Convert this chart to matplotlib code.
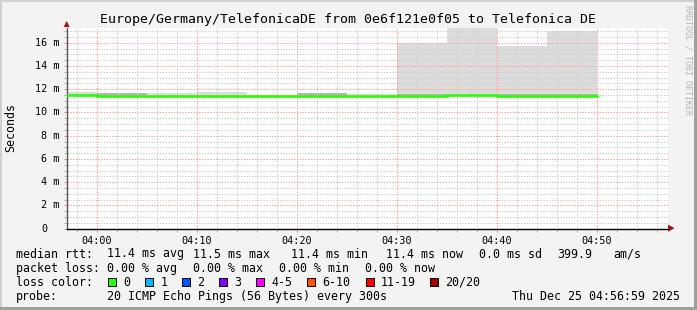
import matplotlib
matplotlib.use("Agg")
import matplotlib.pyplot as plt
from matplotlib.patches import Polygon, Rectangle
import matplotlib.transforms as mtransforms
import numpy as np

# ---------------- data ----------------
# 5-minute segments, start time in minutes relative to 04:00
seg_start = [-5, 0, 5, 10, 15, 20, 25, 30, 35, 40, 45]
seg_width = 5
median_ms = [11.52, 11.43, 11.43, 11.43, 11.45, 11.43, 11.40, 11.45, 11.50, 11.42, 11.45]
smoke_max = [11.76, 11.66, 11.66, 11.76, 11.50, 11.66, 11.60, 15.95, 17.40, 15.74, 17.03]
smoke_min = [11.45, 11.36, 11.36, 11.36, 11.40, 11.36, 11.33, 11.38, 11.43, 11.35, 11.38]
smoke_dense = [11.52, 11.66, 11.43, 11.45, 11.45, 11.66, 11.40, 11.58, 11.50, 11.58, 11.55]

xtick_vals = [0, 10, 20, 30, 40, 50]
xtick_labels = ["04:00", "04:10", "04:20", "04:30", "04:40", "04:50"]
ytick_vals = [0, 2, 4, 6, 8, 10, 12, 14, 16]
ytick_labels = ["0", "2 m", "4 m", "6 m", "8 m", "10 m", "12 m", "14 m", "16 m"]

title = "Europe/Germany/TelefonicaDE from 0e6f121e0f05 to Telefonica DE"
ylabel = "Seconds"
rtt_items = ["median rtt:", "11.4 ms avg", "11.5 ms max", "11.4 ms min",
             "11.4 ms now", "0.0 ms sd", "399.9", "am/s"]
loss_items = ["packet loss:", "0.00 % avg", "0.00 % max", "0.00 % min", "0.00 % now"]
loss_labels = ["0", "1", "2", "3", "4-5", "6-10", "11-19", "20/20"]
loss_colors = ["#26ff00", "#00b8ff", "#0059ff", "#7e00ff", "#ff00ff",
               "#ff5500", "#ff0000", "#a00000"]
probe_text = "20 ICMP Echo Pings (56 Bytes) every 300s"
date_text = "Thu Dec 25 04:56:59 2025"
watermark = "RRDTOOL / TOBI OETIKER"

# ---------------- layout ----------------
W, H = 697, 310
def fx(x): return x / W
def fy(y): return 1 - y / H

MONO = "DejaVu Sans Mono"
plt.rcParams["font.family"] = [MONO]

fig = plt.figure(figsize=(W / 100, H / 100), dpi=100, facecolor="#f3f3f3")

# frame
fig.patches.append(Rectangle((0, 0), fx(2), 1, transform=fig.transFigure,
                             facecolor="#d0d0d0", edgecolor="none", zorder=0))
fig.patches.append(Rectangle((0, fy(2)), 1, 2 / H, transform=fig.transFigure,
                             facecolor="#d0d0d0", edgecolor="none", zorder=0))
fig.patches.append(Rectangle((fx(694), 0), 3 / W, 1, transform=fig.transFigure,
                             facecolor="#a0a0a0", edgecolor="none", zorder=0))
fig.patches.append(Rectangle((0, 0), 1, 3 / H, transform=fig.transFigure,
                             facecolor="#a0a0a0", edgecolor="none", zorder=0))

ax_l, ax_r, ax_t, ax_b = 66.7, 668.0, 28.0, 228.7
ax = fig.add_axes([fx(ax_l), fy(ax_b), (ax_r - ax_l) / W, (ax_b - ax_t) / H])
ax.set_facecolor("white")
xmin = -3
xmax = xmin + (ax_r - ax_l) / 10.0
ymax = (ax_b - ax_t) / 11.625
ax.set_xlim(xmin, xmax)
ax.set_ylim(0, ymax)

# smoke
seg_start_a = np.array(seg_start, dtype=float)
smin = np.array(smoke_min)
ax.bar(seg_start_a, np.array(smoke_max) - smin, bottom=smin, width=seg_width,
       align="edge", color="#dcdcdc", linewidth=0, zorder=1)
ax.bar(seg_start_a, np.array(smoke_dense) - smin, bottom=smin, width=seg_width,
       align="edge", color="#b4b4b4", linewidth=0, zorder=1.1)

# grid
minor_x = np.arange(-2, 57, 2)
minor_y = np.arange(0.5, ymax, 0.5)
GRIDC = "#cfcfcf"
MGRIDC = "#ff9c9c"
for v in minor_x:
    if v % 10:
        ax.axvline(v, color=GRIDC, lw=0.72, ls=(0, (1.4, 1.4)), zorder=2)
for v in minor_y:
    if v % 2:
        ax.axhline(v, color=GRIDC, lw=0.72, ls=(0, (1.4, 1.4)), zorder=2)
for v in xtick_vals:
    ax.axvline(v, color=MGRIDC, lw=0.72, ls=(0, (1.4, 1.4)), zorder=2.1)
for v in ytick_vals[1:]:
    ax.axhline(v, color=MGRIDC, lw=0.72, ls=(0, (1.4, 1.4)), zorder=2.1)

# median line
xs = list(seg_start) + [seg_start[-1] + seg_width]
ys = list(median_ms) + [median_ms[-1]]
ax.step(xs, ys, where="post", color="#26ff00", lw=1.9, zorder=3,
        solid_joinstyle="miter")

# axes styling
for s in ["top", "right"]:
    ax.spines[s].set_visible(False)
ax.spines["left"].set_color("#555555")
ax.spines["bottom"].set_color("#000000")
ax.spines["left"].set_linewidth(1.0)
ax.spines["bottom"].set_linewidth(1.0)
ax.set_xticks(xtick_vals)
ax.set_xticklabels(xtick_labels, fontsize=7.3)
ax.set_yticks(ytick_vals)
ax.set_yticklabels([])
ax.set_xticks(minor_x, minor=True)
ax.set_yticks(minor_y, minor=True)
ax.tick_params(axis="x", which="major", length=2.5, width=0.7, color="#ff8080", pad=2.5)
ax.tick_params(axis="x", which="minor", length=2, width=0.7, color="#b0b0b0")
ax.tick_params(axis="y", which="major", length=2.5, width=0.7, color="#ff8080")
ax.tick_params(axis="y", which="minor", length=2, width=0.7, color="#b0b0b0")

# y tick labels
ytr = mtransforms.blended_transform_factory(fig.transFigure, ax.transData)
for v, lab in zip(ytick_vals, ytick_labels):
    xr = 59.8 if lab != "0" else 47.0
    ax.text(fx(xr), v, lab, transform=ytr, ha="right", va="center",
            fontsize=7.3, color="#000000", clip_on=False)

# arrows
fig.patches.append(Polygon([(fx(63.7), fy(27)), (fx(69.7), fy(27)), (fx(66.7), fy(21))],
                           closed=True, transform=fig.transFigure,
                           facecolor="#a01010", edgecolor="none", zorder=5))
fig.patches.append(Polygon([(fx(668), fy(224.7)), (fx(668), fy(231.7)), (fx(674.5), fy(228.2))],
                           closed=True, transform=fig.transFigure,
                           facecolor="#a01010", edgecolor="none", zorder=5))

# title, labels
fig.text(fx(347.5), fy(19.5), title, ha="center", va="center", fontsize=9.5)
fig.text(fx(10.7), fy(127.7), ylabel, ha="center", va="center", rotation=90, fontsize=8.4)
fig.text(fx(688), fy(60), watermark, ha="center", va="center", rotation=-90,
         fontsize=6.0, color="#b4b4b4")

# legend
FS = 8.4
rtt_x = [16, 107.3, 193.3, 290.7, 386.3, 479.3, 557.7, 613.7]
for x, t in zip(rtt_x, rtt_items):
    fig.text(fx(x), fy(254), t, ha="left", va="center", fontsize=FS)
loss_x = [16, 107.3, 193.3, 279.3, 365.3]
for x, t in zip(loss_x, loss_items):
    fig.text(fx(x), fy(268.7), t, ha="left", va="center", fontsize=FS)

fig.text(fx(16), fy(282), "loss color:", ha="left", va="center", fontsize=FS)
box_x = [108, 145.3, 182.3, 219.3, 256.3, 307.3, 365.5, 430]
for bx, lab, col in zip(box_x, loss_labels, loss_colors):
    fig.patches.append(Rectangle((fx(bx), fy(285.5)), 8 / W, 8 / H,
                                 transform=fig.transFigure, facecolor=col,
                                 edgecolor="#000000", linewidth=0.7, zorder=5))
    fig.text(fx(bx + 15.2), fy(282), lab, ha="left", va="center", fontsize=FS)

fig.text(fx(16), fy(296.3), "probe:", ha="left", va="center", fontsize=FS)
fig.text(fx(107.3), fy(296.3), probe_text, ha="left", va="center", fontsize=FS)
fig.text(fx(680.5), fy(296.3), date_text, ha="right", va="center", fontsize=FS)

fig.savefig("out.png", dpi=100, facecolor=fig.get_facecolor())
